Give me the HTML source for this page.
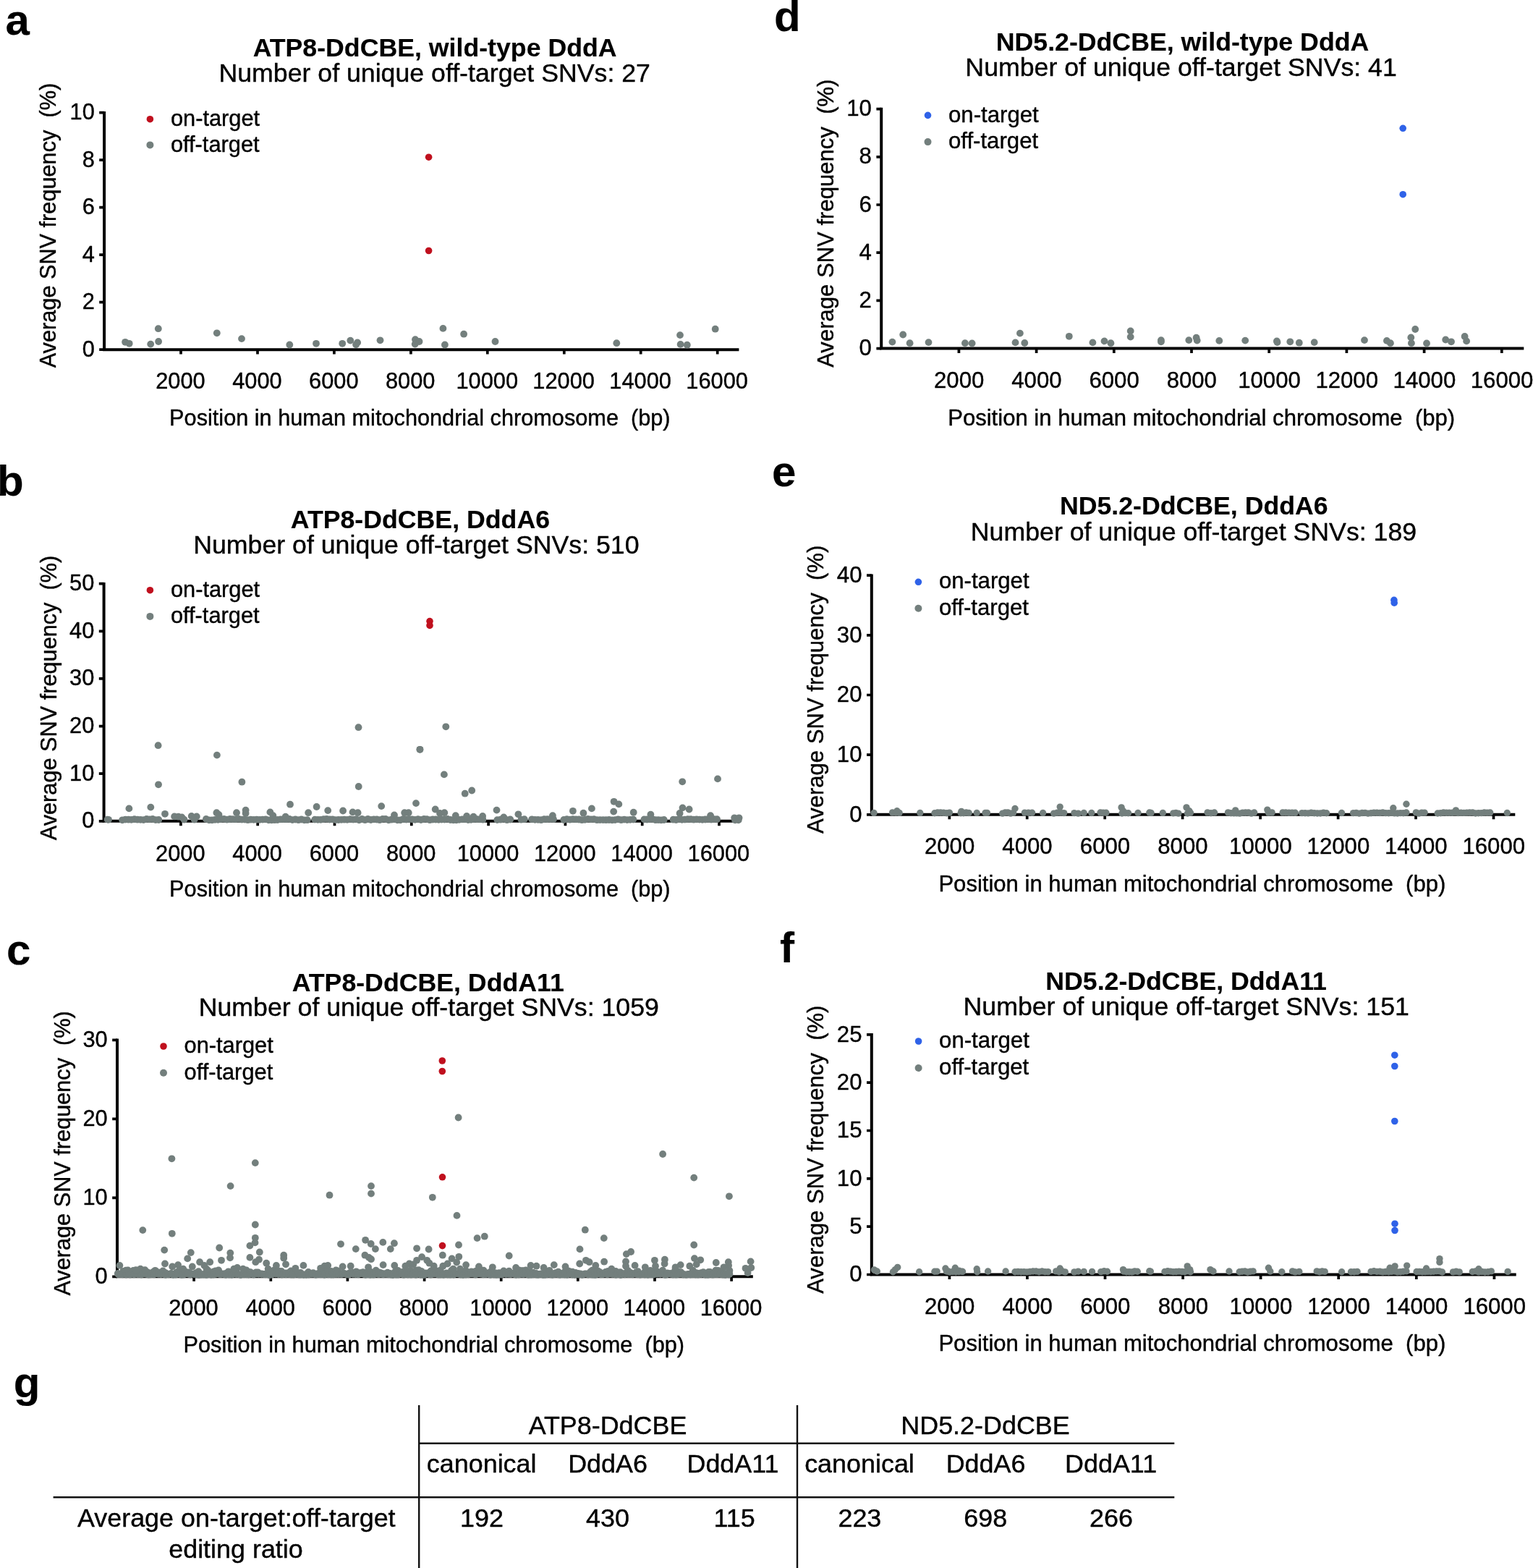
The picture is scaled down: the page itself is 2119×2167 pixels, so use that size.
<!DOCTYPE html>
<html lang="en"><head><meta charset="utf-8"><title>Figure</title>
<style>
html,body{margin:0;padding:0;background:#fff}
body{width:2119px;height:2167px;overflow:hidden}
svg{display:block}
text{font-family:"Liberation Sans",Arial,Helvetica,sans-serif;white-space:pre;fill:#000;stroke:#000;stroke-width:0.4px;stroke-linejoin:round}
text.b{font-weight:700;stroke-width:0.15px}
</style></head><body>
<svg width="2119" height="2167" viewBox="0 0 2119 2167">
<rect width="2119" height="2167" fill="#fff"/>
<g id="panel-a">
<text x="7.5" y="48" font-size="60" class="b">a</text>
<text x="601.1" y="77.6" font-size="35.7" text-anchor="middle" class="b">ATP8-DdCBE, wild-type DddA</text>
<text x="600.7" y="113.2" font-size="35.7" text-anchor="middle">Number of unique off-target SNVs: 27</text>
<path d="M144.1 153.9V485.2M142.1 483.2H1021.4" stroke="#000" stroke-width="4.0" fill="none"/>
<path d="M137.2 483.2H144.1M137.2 417.7H144.1M137.2 352.2H144.1M137.2 286.7H144.1M137.2 221.2H144.1M137.2 155.7H144.1M250 483.2V489.6M356 483.2V489.6M461.9 483.2V489.6M567.9 483.2V489.6M673.8 483.2V489.6M779.8 483.2V489.6M885.7 483.2V489.6M991.7 483.2V489.6" stroke="#000" stroke-width="3.7" fill="none"/>
<text x="130.8" y="492.7" font-size="30.8" text-anchor="end">0</text>
<text x="130.8" y="427.2" font-size="30.8" text-anchor="end">2</text>
<text x="130.8" y="361.7" font-size="30.8" text-anchor="end">4</text>
<text x="130.8" y="296.2" font-size="30.8" text-anchor="end">6</text>
<text x="130.8" y="230.7" font-size="30.8" text-anchor="end">8</text>
<text x="130.8" y="165.2" font-size="30.8" text-anchor="end">10</text>
<text x="249.4" y="536.6" font-size="30.8" text-anchor="middle">2000</text>
<text x="355.4" y="536.6" font-size="30.8" text-anchor="middle">4000</text>
<text x="461.3" y="536.6" font-size="30.8" text-anchor="middle">6000</text>
<text x="567.2" y="536.6" font-size="30.8" text-anchor="middle">8000</text>
<text x="673.2" y="536.6" font-size="30.8" text-anchor="middle">10000</text>
<text x="779.1" y="536.6" font-size="30.8" text-anchor="middle">12000</text>
<text x="885.1" y="536.6" font-size="30.8" text-anchor="middle">14000</text>
<text x="991.1" y="536.6" font-size="30.8" text-anchor="middle">16000</text>
<text x="234.1" y="587.8" font-size="30.7" xml:space="preserve">Position in human mitochondrial chromosome  (bp)</text>
<text transform="translate(77 508.3) rotate(-90)" font-size="30.7" xml:space="preserve">Average SNV frequency  (%)</text>
<g fill="#737f7d"><circle cx="173.1" cy="472.8" r="4.9"/><circle cx="178.7" cy="474.8" r="4.9"/><circle cx="208.2" cy="475.6" r="4.9"/><circle cx="218.8" cy="454.2" r="4.9"/><circle cx="219.1" cy="472" r="4.9"/><circle cx="299.8" cy="460.3" r="4.9"/><circle cx="334" cy="468.1" r="4.9"/><circle cx="400.3" cy="476.5" r="4.9"/><circle cx="437" cy="474.8" r="4.9"/><circle cx="473.2" cy="474.8" r="4.9"/><circle cx="484.3" cy="470.6" r="4.9"/><circle cx="494.1" cy="473.4" r="4.9"/><circle cx="492.1" cy="476.2" r="4.9"/><circle cx="525.5" cy="470.3" r="4.9"/><circle cx="574" cy="469.2" r="4.9"/><circle cx="579.5" cy="472" r="4.9"/><circle cx="573.7" cy="475.6" r="4.9"/><circle cx="612.4" cy="453.9" r="4.9"/><circle cx="614.9" cy="476.5" r="4.9"/><circle cx="641.1" cy="461.7" r="4.9"/><circle cx="684.5" cy="472" r="4.9"/><circle cx="852.3" cy="474.2" r="4.9"/><circle cx="940" cy="463.1" r="4.9"/><circle cx="940.6" cy="475.9" r="4.9"/><circle cx="949.8" cy="476.7" r="4.9"/><circle cx="988.7" cy="454.7" r="4.9"/></g>
<g fill="#c0101e"><circle cx="592.6" cy="217.2" r="4.8"/><circle cx="592.6" cy="346.5" r="4.8"/></g>
<circle cx="207.4" cy="164.7" r="4.8" fill="#c0101e"/>
<circle cx="207.4" cy="200.4" r="5" fill="#737f7d"/>
<text x="235.9" y="173.8" font-size="30.8">on-target</text>
<text x="235.9" y="209.6" font-size="30.8">off-target</text>
</g>
<g id="panel-b">
<text x="-4" y="685.4" font-size="60" class="b">b</text>
<text x="580.9" y="730" font-size="35.7" text-anchor="middle" class="b">ATP8-DdCBE, DddA6</text>
<text x="575.4" y="765.1" font-size="35.7" text-anchor="middle">Number of unique off-target SNVs: 510</text>
<path d="M143.6 804.9V1136.8M141.6 1134.8H1024" stroke="#000" stroke-width="4.0" fill="none"/>
<path d="M136.8 1134.8H143.6M136.8 1069.2H143.6M136.8 1003.6H143.6M136.8 937.9H143.6M136.8 872.3H143.6M136.8 806.7H143.6M249.9 1134.8V1141.2M356.2 1134.8V1141.2M462.5 1134.8V1141.2M568.8 1134.8V1141.2M675.1 1134.8V1141.2M781.4 1134.8V1141.2M887.7 1134.8V1141.2M994 1134.8V1141.2" stroke="#000" stroke-width="3.7" fill="none"/>
<text x="130.3" y="1144.3" font-size="30.8" text-anchor="end">0</text>
<text x="130.3" y="1078.7" font-size="30.8" text-anchor="end">10</text>
<text x="130.3" y="1013.1" font-size="30.8" text-anchor="end">20</text>
<text x="130.3" y="947.4" font-size="30.8" text-anchor="end">30</text>
<text x="130.3" y="881.8" font-size="30.8" text-anchor="end">40</text>
<text x="130.3" y="816.2" font-size="30.8" text-anchor="end">50</text>
<text x="249.3" y="1189.8" font-size="30.8" text-anchor="middle">2000</text>
<text x="355.6" y="1189.8" font-size="30.8" text-anchor="middle">4000</text>
<text x="461.9" y="1189.8" font-size="30.8" text-anchor="middle">6000</text>
<text x="568.2" y="1189.8" font-size="30.8" text-anchor="middle">8000</text>
<text x="674.5" y="1189.8" font-size="30.8" text-anchor="middle">10000</text>
<text x="780.8" y="1189.8" font-size="30.8" text-anchor="middle">12000</text>
<text x="887.1" y="1189.8" font-size="30.8" text-anchor="middle">14000</text>
<text x="993.4" y="1189.8" font-size="30.8" text-anchor="middle">16000</text>
<text x="234.1" y="1239.4" font-size="30.7" xml:space="preserve">Position in human mitochondrial chromosome  (bp)</text>
<text transform="translate(77.5 1161.2) rotate(-90)" font-size="30.7" xml:space="preserve">Average SNV frequency  (%)</text>
<g fill="#737f7d"><circle cx="148.6" cy="1132.6" r="4.9"/><circle cx="150" cy="1132.8" r="4.9"/><circle cx="169.1" cy="1133.3" r="4.9"/><circle cx="173.3" cy="1132.6" r="4.9"/><circle cx="177.5" cy="1132.7" r="4.9"/><circle cx="181.6" cy="1132.8" r="4.9"/><circle cx="185.8" cy="1132.2" r="4.9"/><circle cx="190" cy="1132.7" r="4.9"/><circle cx="194.2" cy="1132.9" r="4.9"/><circle cx="198.4" cy="1133.1" r="4.9"/><circle cx="202.6" cy="1132" r="4.9"/><circle cx="206.8" cy="1132.3" r="4.9"/><circle cx="211" cy="1132" r="4.9"/><circle cx="215.1" cy="1133.1" r="4.9"/><circle cx="219.3" cy="1133" r="4.9"/><circle cx="284.9" cy="1131.9" r="4.9"/><circle cx="289" cy="1133.4" r="4.9"/><circle cx="293.1" cy="1133.4" r="4.9"/><circle cx="297.2" cy="1132.9" r="4.9"/><circle cx="301.3" cy="1132.8" r="4.9"/><circle cx="305.5" cy="1132.1" r="4.9"/><circle cx="309.6" cy="1131.9" r="4.9"/><circle cx="313.7" cy="1132.7" r="4.9"/><circle cx="317.8" cy="1132" r="4.9"/><circle cx="321.9" cy="1132.2" r="4.9"/><circle cx="326" cy="1132.3" r="4.9"/><circle cx="330.2" cy="1131.9" r="4.9"/><circle cx="334.3" cy="1132.6" r="4.9"/><circle cx="338.4" cy="1132.6" r="4.9"/><circle cx="342.5" cy="1133.2" r="4.9"/><circle cx="346.6" cy="1132.7" r="4.9"/><circle cx="350.7" cy="1132.9" r="4.9"/><circle cx="354.8" cy="1132.7" r="4.9"/><circle cx="359" cy="1132.9" r="4.9"/><circle cx="363.1" cy="1132.6" r="4.9"/><circle cx="367.2" cy="1132.3" r="4.9"/><circle cx="371.3" cy="1133.4" r="4.9"/><circle cx="375.4" cy="1133.4" r="4.9"/><circle cx="379.5" cy="1133.2" r="4.9"/><circle cx="383.6" cy="1133" r="4.9"/><circle cx="387.8" cy="1132.4" r="4.9"/><circle cx="391.9" cy="1132.2" r="4.9"/><circle cx="396" cy="1132.3" r="4.9"/><circle cx="400.1" cy="1132" r="4.9"/><circle cx="404.2" cy="1133.1" r="4.9"/><circle cx="408.3" cy="1132.5" r="4.9"/><circle cx="412.5" cy="1133.2" r="4.9"/><circle cx="416.6" cy="1132.5" r="4.9"/><circle cx="420.7" cy="1133.4" r="4.9"/><circle cx="424.8" cy="1133.2" r="4.9"/><circle cx="228" cy="1124.8" r="4.9"/><circle cx="241.1" cy="1128.4" r="4.9"/><circle cx="246.6" cy="1128.7" r="4.9"/><circle cx="251.3" cy="1129.5" r="4.9"/><circle cx="254.5" cy="1132.7" r="4.9"/><circle cx="264.7" cy="1127.9" r="4.9"/><circle cx="271.8" cy="1128.4" r="4.9"/><circle cx="268.7" cy="1132.7" r="4.9"/><circle cx="299.4" cy="1123.2" r="4.9"/><circle cx="302.5" cy="1125.9" r="4.9"/><circle cx="327" cy="1123.2" r="4.9"/><circle cx="339.6" cy="1119.6" r="4.9"/><circle cx="339.6" cy="1124" r="4.9"/><circle cx="373.4" cy="1122.4" r="4.9"/><circle cx="377.4" cy="1127.1" r="4.9"/><circle cx="394.7" cy="1128.7" r="4.9"/><circle cx="426.2" cy="1123.2" r="4.9"/><circle cx="218.6" cy="1030.2" r="4.9"/><circle cx="299.9" cy="1043.6" r="4.9"/><circle cx="219" cy="1084.3" r="4.9"/><circle cx="334.4" cy="1080.7" r="4.9"/><circle cx="178.4" cy="1117.4" r="4.9"/><circle cx="208.3" cy="1115.6" r="4.9"/><circle cx="401" cy="1111.7" r="4.9"/><circle cx="435.2" cy="1132.6" r="4.9"/><circle cx="439.3" cy="1132.9" r="4.9"/><circle cx="443.3" cy="1132.9" r="4.9"/><circle cx="447.4" cy="1132.1" r="4.9"/><circle cx="451.5" cy="1131.9" r="4.9"/><circle cx="455.6" cy="1132.5" r="4.9"/><circle cx="459.6" cy="1132.3" r="4.9"/><circle cx="463.7" cy="1133.1" r="4.9"/><circle cx="467.8" cy="1133" r="4.9"/><circle cx="471.9" cy="1132.8" r="4.9"/><circle cx="475.9" cy="1132.7" r="4.9"/><circle cx="480" cy="1132.9" r="4.9"/><circle cx="484.1" cy="1132.1" r="4.9"/><circle cx="488.2" cy="1132.6" r="4.9"/><circle cx="492.2" cy="1132.1" r="4.9"/><circle cx="496.3" cy="1133.3" r="4.9"/><circle cx="500.4" cy="1132" r="4.9"/><circle cx="504.5" cy="1133.2" r="4.9"/><circle cx="508.5" cy="1132" r="4.9"/><circle cx="512.6" cy="1133" r="4.9"/><circle cx="516.7" cy="1132.4" r="4.9"/><circle cx="520.8" cy="1132.5" r="4.9"/><circle cx="524.8" cy="1133.2" r="4.9"/><circle cx="528.9" cy="1131.9" r="4.9"/><circle cx="533" cy="1132" r="4.9"/><circle cx="537.1" cy="1133.3" r="4.9"/><circle cx="541.1" cy="1132.7" r="4.9"/><circle cx="545.2" cy="1132" r="4.9"/><circle cx="549.3" cy="1133.4" r="4.9"/><circle cx="553.4" cy="1133.4" r="4.9"/><circle cx="557.4" cy="1132" r="4.9"/><circle cx="561.5" cy="1132.5" r="4.9"/><circle cx="565.6" cy="1132.1" r="4.9"/><circle cx="569.7" cy="1132.4" r="4.9"/><circle cx="573.7" cy="1132.8" r="4.9"/><circle cx="577.8" cy="1132.1" r="4.9"/><circle cx="581.9" cy="1133" r="4.9"/><circle cx="586" cy="1132" r="4.9"/><circle cx="590" cy="1132.1" r="4.9"/><circle cx="594.1" cy="1133.2" r="4.9"/><circle cx="598.2" cy="1132.5" r="4.9"/><circle cx="602.3" cy="1132.5" r="4.9"/><circle cx="606.3" cy="1132.8" r="4.9"/><circle cx="610.4" cy="1132.6" r="4.9"/><circle cx="614.5" cy="1132.5" r="4.9"/><circle cx="618.6" cy="1131.9" r="4.9"/><circle cx="622.6" cy="1133" r="4.9"/><circle cx="626.7" cy="1133.4" r="4.9"/><circle cx="630.8" cy="1133.4" r="4.9"/><circle cx="634.9" cy="1132.9" r="4.9"/><circle cx="638.9" cy="1132.4" r="4.9"/><circle cx="643" cy="1132.4" r="4.9"/><circle cx="647.1" cy="1133" r="4.9"/><circle cx="651.1" cy="1132.9" r="4.9"/><circle cx="655.2" cy="1132" r="4.9"/><circle cx="659.3" cy="1132.2" r="4.9"/><circle cx="663.4" cy="1132.4" r="4.9"/><circle cx="667.4" cy="1132.7" r="4.9"/><circle cx="687.3" cy="1133.1" r="4.9"/><circle cx="691.8" cy="1132.7" r="4.9"/><circle cx="696.3" cy="1131.9" r="4.9"/><circle cx="700.8" cy="1133.2" r="4.9"/><circle cx="705.3" cy="1132.5" r="4.9"/><circle cx="720.4" cy="1132.7" r="4.9"/><circle cx="724.8" cy="1132.2" r="4.9"/><circle cx="437.6" cy="1115" r="4.9"/><circle cx="453.2" cy="1120.1" r="4.9"/><circle cx="474.1" cy="1120.5" r="4.9"/><circle cx="487.5" cy="1122.4" r="4.9"/><circle cx="494.6" cy="1123.2" r="4.9"/><circle cx="527.2" cy="1114.1" r="4.9"/><circle cx="545" cy="1126.4" r="4.9"/><circle cx="559.2" cy="1123.2" r="4.9"/><circle cx="564.7" cy="1123.2" r="4.9"/><circle cx="575" cy="1110.1" r="4.9"/><circle cx="601.7" cy="1118.5" r="4.9"/><circle cx="608" cy="1124" r="4.9"/><circle cx="614.3" cy="1123.2" r="4.9"/><circle cx="629.8" cy="1127.1" r="4.9"/><circle cx="645.1" cy="1127.9" r="4.9"/><circle cx="654.5" cy="1128.7" r="4.9"/><circle cx="667.1" cy="1127.9" r="4.9"/><circle cx="686.5" cy="1119.6" r="4.9"/><circle cx="696.3" cy="1129.5" r="4.9"/><circle cx="716.4" cy="1125.3" r="4.9"/><circle cx="495.7" cy="1087" r="4.9"/><circle cx="580.5" cy="1035.8" r="4.9"/><circle cx="613.9" cy="1070.4" r="4.9"/><circle cx="642.7" cy="1096.7" r="4.9"/><circle cx="652.2" cy="1092.5" r="4.9"/><circle cx="735.2" cy="1132.3" r="4.9"/><circle cx="739.5" cy="1132.9" r="4.9"/><circle cx="743.7" cy="1132.9" r="4.9"/><circle cx="748" cy="1133.2" r="4.9"/><circle cx="752.2" cy="1132.2" r="4.9"/><circle cx="756.5" cy="1132.2" r="4.9"/><circle cx="760.7" cy="1132.1" r="4.9"/><circle cx="765" cy="1132.2" r="4.9"/><circle cx="779.3" cy="1133" r="4.9"/><circle cx="783.5" cy="1132.1" r="4.9"/><circle cx="787.7" cy="1132.7" r="4.9"/><circle cx="791.8" cy="1132.2" r="4.9"/><circle cx="796" cy="1132.3" r="4.9"/><circle cx="800.2" cy="1132.5" r="4.9"/><circle cx="804.3" cy="1133.2" r="4.9"/><circle cx="808.5" cy="1132.8" r="4.9"/><circle cx="812.7" cy="1131.9" r="4.9"/><circle cx="816.9" cy="1132.3" r="4.9"/><circle cx="821" cy="1132.1" r="4.9"/><circle cx="825.2" cy="1133.2" r="4.9"/><circle cx="829.4" cy="1133.1" r="4.9"/><circle cx="833.6" cy="1133.1" r="4.9"/><circle cx="837.7" cy="1133.2" r="4.9"/><circle cx="841.9" cy="1133" r="4.9"/><circle cx="846.1" cy="1133.4" r="4.9"/><circle cx="850.2" cy="1133.1" r="4.9"/><circle cx="854.4" cy="1132.3" r="4.9"/><circle cx="858.6" cy="1133.2" r="4.9"/><circle cx="862.8" cy="1132.6" r="4.9"/><circle cx="866.9" cy="1133.1" r="4.9"/><circle cx="871.1" cy="1132.8" r="4.9"/><circle cx="875.3" cy="1132.5" r="4.9"/><circle cx="890.4" cy="1132.4" r="4.9"/><circle cx="894.3" cy="1132.5" r="4.9"/><circle cx="898.2" cy="1132.4" r="4.9"/><circle cx="902.1" cy="1132.1" r="4.9"/><circle cx="906.1" cy="1133.2" r="4.9"/><circle cx="910" cy="1133.1" r="4.9"/><circle cx="913.9" cy="1133.4" r="4.9"/><circle cx="917.8" cy="1133" r="4.9"/><circle cx="930.6" cy="1132.7" r="4.9"/><circle cx="934.6" cy="1133" r="4.9"/><circle cx="938.6" cy="1132.1" r="4.9"/><circle cx="942.7" cy="1132.9" r="4.9"/><circle cx="946.7" cy="1132.6" r="4.9"/><circle cx="950.7" cy="1132.1" r="4.9"/><circle cx="954.8" cy="1132.2" r="4.9"/><circle cx="958.8" cy="1132.7" r="4.9"/><circle cx="962.8" cy="1132.3" r="4.9"/><circle cx="966.9" cy="1132.6" r="4.9"/><circle cx="970.9" cy="1132.8" r="4.9"/><circle cx="974.9" cy="1132.5" r="4.9"/><circle cx="979" cy="1132.1" r="4.9"/><circle cx="983" cy="1132.6" r="4.9"/><circle cx="987" cy="1132.2" r="4.9"/><circle cx="991.1" cy="1132.2" r="4.9"/><circle cx="763.9" cy="1127.1" r="4.9"/><circle cx="791.9" cy="1120.8" r="4.9"/><circle cx="806.4" cy="1123.7" r="4.9"/><circle cx="817.9" cy="1117.4" r="4.9"/><circle cx="848.2" cy="1121.6" r="4.9"/><circle cx="848.6" cy="1107.8" r="4.9"/><circle cx="855.3" cy="1111.4" r="4.9"/><circle cx="875.7" cy="1122.7" r="4.9"/><circle cx="899.4" cy="1125.6" r="4.9"/><circle cx="943.5" cy="1116.4" r="4.9"/><circle cx="952.6" cy="1118.5" r="4.9"/><circle cx="939.6" cy="1124" r="4.9"/><circle cx="982.1" cy="1127.1" r="4.9"/><circle cx="1015.2" cy="1130.3" r="4.9"/><circle cx="1021.5" cy="1130.3" r="4.9"/><circle cx="1016" cy="1133.4" r="4.9"/><circle cx="1020.7" cy="1133.4" r="4.9"/><circle cx="943.2" cy="1080.3" r="4.9"/><circle cx="992" cy="1076.4" r="4.9"/><circle cx="495.5" cy="1005.2" r="4.9"/><circle cx="616.3" cy="1004.3" r="4.9"/><circle cx="580.4" cy="1035.8" r="4.9"/></g>
<g fill="#c0101e"><circle cx="594" cy="858.6" r="4.8"/><circle cx="594" cy="864.4" r="4.8"/></g>
<circle cx="207.4" cy="815.7" r="4.8" fill="#c0101e"/>
<circle cx="207.4" cy="851.9" r="5" fill="#737f7d"/>
<text x="235.9" y="824.8" font-size="30.8">on-target</text>
<text x="235.9" y="861.1" font-size="30.8">off-target</text>
</g>
<g id="panel-c">
<text x="9" y="1333" font-size="60" class="b">c</text>
<text x="591.7" y="1369.5" font-size="35.7" text-anchor="middle" class="b">ATP8-DdCBE, DddA11</text>
<text x="592.8" y="1404.3" font-size="35.7" text-anchor="middle">Number of unique off-target SNVs: 1059</text>
<path d="M162 1435.5V1766.3M160 1764.3H1040.8" stroke="#000" stroke-width="4.0" fill="none"/>
<path d="M155.2 1764.3H162M155.2 1655.3H162M155.2 1546.3H162M155.2 1437.3H162M268.1 1764.3V1770.7M374.3 1764.3V1770.7M480.4 1764.3V1770.7M586.6 1764.3V1770.7M692.7 1764.3V1770.7M798.8 1764.3V1770.7M905 1764.3V1770.7M1011.1 1764.3V1770.7" stroke="#000" stroke-width="3.7" fill="none"/>
<text x="148.7" y="1773.8" font-size="30.8" text-anchor="end">0</text>
<text x="148.7" y="1664.8" font-size="30.8" text-anchor="end">10</text>
<text x="148.7" y="1555.8" font-size="30.8" text-anchor="end">20</text>
<text x="148.7" y="1446.8" font-size="30.8" text-anchor="end">30</text>
<text x="267.5" y="1818.2" font-size="30.8" text-anchor="middle">2000</text>
<text x="373.7" y="1818.2" font-size="30.8" text-anchor="middle">4000</text>
<text x="479.8" y="1818.2" font-size="30.8" text-anchor="middle">6000</text>
<text x="586" y="1818.2" font-size="30.8" text-anchor="middle">8000</text>
<text x="692.1" y="1818.2" font-size="30.8" text-anchor="middle">10000</text>
<text x="798.2" y="1818.2" font-size="30.8" text-anchor="middle">12000</text>
<text x="904.4" y="1818.2" font-size="30.8" text-anchor="middle">14000</text>
<text x="1010.5" y="1818.2" font-size="30.8" text-anchor="middle">16000</text>
<text x="253.5" y="1869.3" font-size="30.7" xml:space="preserve">Position in human mitochondrial chromosome  (bp)</text>
<text transform="translate(96.8 1790.6) rotate(-90)" font-size="30.7" xml:space="preserve">Average SNV frequency  (%)</text>
<g fill="#737f7d"><circle cx="162.8" cy="1759.9" r="4.9"/><circle cx="163.6" cy="1761.2" r="4.9"/><circle cx="166.3" cy="1760.6" r="4.9"/><circle cx="167.4" cy="1761.2" r="4.9"/><circle cx="170.3" cy="1756.8" r="4.9"/><circle cx="169.4" cy="1761.4" r="4.9"/><circle cx="174" cy="1755.7" r="4.9"/><circle cx="174.3" cy="1761.6" r="4.9"/><circle cx="176.8" cy="1755.5" r="4.9"/><circle cx="178.2" cy="1760.8" r="4.9"/><circle cx="181.4" cy="1759.4" r="4.9"/><circle cx="179.8" cy="1761.5" r="4.9"/><circle cx="184.2" cy="1756" r="4.9"/><circle cx="185" cy="1761.4" r="4.9"/><circle cx="187" cy="1760.7" r="4.9"/><circle cx="186.9" cy="1760.5" r="4.9"/><circle cx="191" cy="1758.9" r="4.9"/><circle cx="190.8" cy="1761.2" r="4.9"/><circle cx="194" cy="1755.5" r="4.9"/><circle cx="195.3" cy="1761.6" r="4.9"/><circle cx="198.6" cy="1756.6" r="4.9"/><circle cx="198.9" cy="1760.6" r="4.9"/><circle cx="202" cy="1760.4" r="4.9"/><circle cx="201.7" cy="1760.8" r="4.9"/><circle cx="204.3" cy="1758.4" r="4.9"/><circle cx="205.6" cy="1761.7" r="4.9"/><circle cx="209.3" cy="1761.2" r="4.9"/><circle cx="208.3" cy="1761.4" r="4.9"/><circle cx="211.8" cy="1757.8" r="4.9"/><circle cx="212.9" cy="1761.4" r="4.9"/><circle cx="214.5" cy="1755.8" r="4.9"/><circle cx="215.8" cy="1760.4" r="4.9"/><circle cx="218.8" cy="1758.5" r="4.9"/><circle cx="219" cy="1760.8" r="4.9"/><circle cx="221.8" cy="1759.3" r="4.9"/><circle cx="222.4" cy="1761" r="4.9"/><circle cx="225.2" cy="1756.4" r="4.9"/><circle cx="225.5" cy="1760.5" r="4.9"/><circle cx="229" cy="1759.2" r="4.9"/><circle cx="228.9" cy="1761.8" r="4.9"/><circle cx="231.9" cy="1760.7" r="4.9"/><circle cx="233.2" cy="1761.4" r="4.9"/><circle cx="236.5" cy="1759.8" r="4.9"/><circle cx="236.9" cy="1760.5" r="4.9"/><circle cx="239.5" cy="1761.9" r="4.9"/><circle cx="240.5" cy="1761" r="4.9"/><circle cx="243.8" cy="1758.5" r="4.9"/><circle cx="242.9" cy="1761.6" r="4.9"/><circle cx="247.3" cy="1756.3" r="4.9"/><circle cx="245.8" cy="1760.7" r="4.9"/><circle cx="250.6" cy="1758.5" r="4.9"/><circle cx="250.7" cy="1761.9" r="4.9"/><circle cx="253.1" cy="1757.2" r="4.9"/><circle cx="253.4" cy="1761.7" r="4.9"/><circle cx="256.2" cy="1757.5" r="4.9"/><circle cx="257.7" cy="1760.4" r="4.9"/><circle cx="260.9" cy="1758.4" r="4.9"/><circle cx="260" cy="1760.5" r="4.9"/><circle cx="264" cy="1760.1" r="4.9"/><circle cx="263" cy="1761.6" r="4.9"/><circle cx="268" cy="1760.6" r="4.9"/><circle cx="268.1" cy="1761" r="4.9"/><circle cx="270.7" cy="1759.1" r="4.9"/><circle cx="271.5" cy="1761.5" r="4.9"/><circle cx="274.4" cy="1757.1" r="4.9"/><circle cx="274.8" cy="1762" r="4.9"/><circle cx="278.1" cy="1761.7" r="4.9"/><circle cx="276.9" cy="1761" r="4.9"/><circle cx="281.5" cy="1761" r="4.9"/><circle cx="281.4" cy="1761.6" r="4.9"/><circle cx="284.5" cy="1761.7" r="4.9"/><circle cx="285.5" cy="1761.8" r="4.9"/><circle cx="287.4" cy="1755.8" r="4.9"/><circle cx="287.3" cy="1761.3" r="4.9"/><circle cx="291" cy="1761.1" r="4.9"/><circle cx="291.9" cy="1761.8" r="4.9"/><circle cx="295.2" cy="1757.4" r="4.9"/><circle cx="295.1" cy="1761.6" r="4.9"/><circle cx="298" cy="1756.4" r="4.9"/><circle cx="298.4" cy="1760.9" r="4.9"/><circle cx="302.1" cy="1755.5" r="4.9"/><circle cx="302.4" cy="1760.6" r="4.9"/><circle cx="306" cy="1760.6" r="4.9"/><circle cx="304.6" cy="1761.2" r="4.9"/><circle cx="308.2" cy="1760.4" r="4.9"/><circle cx="308.4" cy="1760.9" r="4.9"/><circle cx="312" cy="1759.9" r="4.9"/><circle cx="312.1" cy="1761.9" r="4.9"/><circle cx="315.7" cy="1757.3" r="4.9"/><circle cx="316.7" cy="1761.5" r="4.9"/><circle cx="319.4" cy="1758.9" r="4.9"/><circle cx="320.2" cy="1761.8" r="4.9"/><circle cx="323" cy="1758.6" r="4.9"/><circle cx="323.3" cy="1760.5" r="4.9"/><circle cx="326" cy="1759.9" r="4.9"/><circle cx="326.4" cy="1761.1" r="4.9"/><circle cx="329" cy="1760.7" r="4.9"/><circle cx="330.7" cy="1761.4" r="4.9"/><circle cx="332.9" cy="1761.9" r="4.9"/><circle cx="332.5" cy="1761.9" r="4.9"/><circle cx="335.9" cy="1760.7" r="4.9"/><circle cx="337.2" cy="1761.3" r="4.9"/><circle cx="340.4" cy="1755.3" r="4.9"/><circle cx="340.5" cy="1761.3" r="4.9"/><circle cx="343.7" cy="1757.8" r="4.9"/><circle cx="343.5" cy="1761.6" r="4.9"/><circle cx="346.3" cy="1758.1" r="4.9"/><circle cx="346.6" cy="1760.9" r="4.9"/><circle cx="351.2" cy="1760.1" r="4.9"/><circle cx="350.5" cy="1761.6" r="4.9"/><circle cx="353.8" cy="1758.5" r="4.9"/><circle cx="354.3" cy="1760.5" r="4.9"/><circle cx="356.7" cy="1758.4" r="4.9"/><circle cx="357.5" cy="1760.8" r="4.9"/><circle cx="361.7" cy="1760.5" r="4.9"/><circle cx="361.2" cy="1760.8" r="4.9"/><circle cx="364.8" cy="1761" r="4.9"/><circle cx="364.8" cy="1760.9" r="4.9"/><circle cx="367.4" cy="1761.4" r="4.9"/><circle cx="367.7" cy="1761" r="4.9"/><circle cx="372" cy="1761.7" r="4.9"/><circle cx="372.3" cy="1762" r="4.9"/><circle cx="374.5" cy="1757.3" r="4.9"/><circle cx="374.6" cy="1761.7" r="4.9"/><circle cx="378.4" cy="1755.7" r="4.9"/><circle cx="377.9" cy="1760.5" r="4.9"/><circle cx="382.2" cy="1758.3" r="4.9"/><circle cx="381" cy="1760.5" r="4.9"/><circle cx="385.6" cy="1756.6" r="4.9"/><circle cx="384.9" cy="1761" r="4.9"/><circle cx="389.1" cy="1757" r="4.9"/><circle cx="389.6" cy="1761.5" r="4.9"/><circle cx="391.7" cy="1760.9" r="4.9"/><circle cx="391.5" cy="1760.9" r="4.9"/><circle cx="395.1" cy="1759.3" r="4.9"/><circle cx="395.2" cy="1761.4" r="4.9"/><circle cx="399.9" cy="1758.4" r="4.9"/><circle cx="399" cy="1761" r="4.9"/><circle cx="402.2" cy="1756.4" r="4.9"/><circle cx="402.4" cy="1761.5" r="4.9"/><circle cx="405.5" cy="1761.7" r="4.9"/><circle cx="405.2" cy="1760.7" r="4.9"/><circle cx="410.3" cy="1760" r="4.9"/><circle cx="408.6" cy="1761.2" r="4.9"/><circle cx="412.1" cy="1759.3" r="4.9"/><circle cx="413.4" cy="1761.6" r="4.9"/><circle cx="415.5" cy="1758.9" r="4.9"/><circle cx="415.7" cy="1761.5" r="4.9"/><circle cx="419.8" cy="1761.3" r="4.9"/><circle cx="419.7" cy="1761.8" r="4.9"/><circle cx="423.9" cy="1760.8" r="4.9"/><circle cx="423.4" cy="1761.9" r="4.9"/><circle cx="426.2" cy="1757.9" r="4.9"/><circle cx="426.9" cy="1761.6" r="4.9"/><circle cx="430.9" cy="1760.9" r="4.9"/><circle cx="431.1" cy="1760.6" r="4.9"/><circle cx="432.9" cy="1759.1" r="4.9"/><circle cx="433" cy="1760.6" r="4.9"/><circle cx="437.7" cy="1760.3" r="4.9"/><circle cx="436.6" cy="1761.9" r="4.9"/><circle cx="441.3" cy="1759.3" r="4.9"/><circle cx="440.9" cy="1761.2" r="4.9"/><circle cx="444.7" cy="1757.5" r="4.9"/><circle cx="443.7" cy="1761.4" r="4.9"/><circle cx="447.3" cy="1759.4" r="4.9"/><circle cx="448.4" cy="1761.9" r="4.9"/><circle cx="165.4" cy="1748.9" r="4.9"/><circle cx="197.3" cy="1700.1" r="4.9"/><circle cx="237.8" cy="1704.8" r="4.9"/><circle cx="237.4" cy="1601.3" r="4.9"/><circle cx="227.2" cy="1727.6" r="4.9"/><circle cx="228" cy="1746.5" r="4.9"/><circle cx="238.2" cy="1750.5" r="4.9"/><circle cx="246.1" cy="1748.1" r="4.9"/><circle cx="253.2" cy="1753.6" r="4.9"/><circle cx="259.2" cy="1739.4" r="4.9"/><circle cx="263.8" cy="1731.1" r="4.9"/><circle cx="265.8" cy="1750.5" r="4.9"/><circle cx="276.1" cy="1744.2" r="4.9"/><circle cx="282.4" cy="1748.9" r="4.9"/><circle cx="285.5" cy="1753.6" r="4.9"/><circle cx="290.2" cy="1744.2" r="4.9"/><circle cx="303.2" cy="1724.5" r="4.9"/><circle cx="306" cy="1741.8" r="4.9"/><circle cx="318.3" cy="1731.6" r="4.9"/><circle cx="318" cy="1738.3" r="4.9"/><circle cx="318.6" cy="1639.1" r="4.9"/><circle cx="352.8" cy="1607.1" r="4.9"/><circle cx="352.8" cy="1692.5" r="4.9"/><circle cx="352.8" cy="1710.8" r="4.9"/><circle cx="352.5" cy="1717.4" r="4.9"/><circle cx="345.4" cy="1721.6" r="4.9"/><circle cx="345.4" cy="1737.9" r="4.9"/><circle cx="358.8" cy="1730.5" r="4.9"/><circle cx="358" cy="1740.7" r="4.9"/><circle cx="353.3" cy="1744.2" r="4.9"/><circle cx="368.2" cy="1745.7" r="4.9"/><circle cx="370.6" cy="1753.6" r="4.9"/><circle cx="381.9" cy="1748.9" r="4.9"/><circle cx="392.2" cy="1734.7" r="4.9"/><circle cx="392.2" cy="1738.7" r="4.9"/><circle cx="395" cy="1747.3" r="4.9"/><circle cx="419.4" cy="1748.9" r="4.9"/><circle cx="408.4" cy="1752.8" r="4.9"/><circle cx="443.1" cy="1752.8" r="4.9"/><circle cx="448.6" cy="1749.7" r="4.9"/><circle cx="194.1" cy="1753.6" r="4.9"/><circle cx="328" cy="1752" r="4.9"/><circle cx="335.9" cy="1753.6" r="4.9"/><circle cx="323.3" cy="1753.6" r="4.9"/><circle cx="187.8" cy="1755.2" r="4.9"/><circle cx="200.4" cy="1755.2" r="4.9"/><circle cx="450.9" cy="1756.2" r="4.9"/><circle cx="449.1" cy="1760.4" r="4.9"/><circle cx="452.9" cy="1756" r="4.9"/><circle cx="453.8" cy="1761.4" r="4.9"/><circle cx="457.7" cy="1756.8" r="4.9"/><circle cx="457.8" cy="1761.5" r="4.9"/><circle cx="460.6" cy="1761.5" r="4.9"/><circle cx="460.7" cy="1760.5" r="4.9"/><circle cx="464.3" cy="1755.5" r="4.9"/><circle cx="464.6" cy="1761" r="4.9"/><circle cx="467" cy="1756.5" r="4.9"/><circle cx="468" cy="1761.1" r="4.9"/><circle cx="471.6" cy="1760.4" r="4.9"/><circle cx="471.7" cy="1761.1" r="4.9"/><circle cx="474.6" cy="1759.3" r="4.9"/><circle cx="473.8" cy="1760.5" r="4.9"/><circle cx="477.4" cy="1760.5" r="4.9"/><circle cx="478.6" cy="1760.9" r="4.9"/><circle cx="480.5" cy="1760.8" r="4.9"/><circle cx="481.5" cy="1761.7" r="4.9"/><circle cx="483.8" cy="1758.8" r="4.9"/><circle cx="483.8" cy="1760.5" r="4.9"/><circle cx="488.1" cy="1758.7" r="4.9"/><circle cx="488" cy="1760.9" r="4.9"/><circle cx="492.4" cy="1757.3" r="4.9"/><circle cx="491.4" cy="1761.1" r="4.9"/><circle cx="494.7" cy="1759.2" r="4.9"/><circle cx="495.1" cy="1761.3" r="4.9"/><circle cx="498.9" cy="1758.8" r="4.9"/><circle cx="497.8" cy="1760.4" r="4.9"/><circle cx="501.7" cy="1758.1" r="4.9"/><circle cx="501.8" cy="1760.5" r="4.9"/><circle cx="506.3" cy="1758.7" r="4.9"/><circle cx="505.3" cy="1761.8" r="4.9"/><circle cx="509.7" cy="1756.4" r="4.9"/><circle cx="509" cy="1761.4" r="4.9"/><circle cx="512.1" cy="1757.6" r="4.9"/><circle cx="511.8" cy="1761.9" r="4.9"/><circle cx="515.9" cy="1760.6" r="4.9"/><circle cx="516.1" cy="1761.7" r="4.9"/><circle cx="519.7" cy="1755.6" r="4.9"/><circle cx="519.2" cy="1760.7" r="4.9"/><circle cx="523.6" cy="1758.3" r="4.9"/><circle cx="523.4" cy="1761.2" r="4.9"/><circle cx="526.3" cy="1759.2" r="4.9"/><circle cx="527.2" cy="1760.8" r="4.9"/><circle cx="529.7" cy="1760.1" r="4.9"/><circle cx="530" cy="1761.4" r="4.9"/><circle cx="533.7" cy="1760.8" r="4.9"/><circle cx="533.4" cy="1760.5" r="4.9"/><circle cx="535.7" cy="1758.6" r="4.9"/><circle cx="536.9" cy="1761.4" r="4.9"/><circle cx="539.5" cy="1759.9" r="4.9"/><circle cx="540" cy="1761.6" r="4.9"/><circle cx="542.7" cy="1761.8" r="4.9"/><circle cx="543.3" cy="1761.8" r="4.9"/><circle cx="546.5" cy="1756.9" r="4.9"/><circle cx="547.8" cy="1761.7" r="4.9"/><circle cx="550.1" cy="1755.9" r="4.9"/><circle cx="550.5" cy="1761.6" r="4.9"/><circle cx="553.7" cy="1760.2" r="4.9"/><circle cx="554.8" cy="1760.7" r="4.9"/><circle cx="556.6" cy="1757.8" r="4.9"/><circle cx="558.1" cy="1761.9" r="4.9"/><circle cx="560.4" cy="1758.5" r="4.9"/><circle cx="560.7" cy="1760.8" r="4.9"/><circle cx="564.8" cy="1758.3" r="4.9"/><circle cx="563.9" cy="1761.6" r="4.9"/><circle cx="567.4" cy="1755.6" r="4.9"/><circle cx="568.2" cy="1761.7" r="4.9"/><circle cx="572.1" cy="1759.6" r="4.9"/><circle cx="570.5" cy="1761.2" r="4.9"/><circle cx="575" cy="1755.5" r="4.9"/><circle cx="574.8" cy="1761.9" r="4.9"/><circle cx="578.8" cy="1755.2" r="4.9"/><circle cx="578.5" cy="1760.4" r="4.9"/><circle cx="582.4" cy="1756.8" r="4.9"/><circle cx="581.8" cy="1761.8" r="4.9"/><circle cx="584.9" cy="1761.1" r="4.9"/><circle cx="585.8" cy="1762" r="4.9"/><circle cx="588.4" cy="1759.5" r="4.9"/><circle cx="588" cy="1760.7" r="4.9"/><circle cx="592.9" cy="1758.9" r="4.9"/><circle cx="591.9" cy="1760.6" r="4.9"/><circle cx="595.6" cy="1756.5" r="4.9"/><circle cx="595.2" cy="1761.7" r="4.9"/><circle cx="599.7" cy="1758.7" r="4.9"/><circle cx="599.4" cy="1760.7" r="4.9"/><circle cx="603.4" cy="1756.5" r="4.9"/><circle cx="602.3" cy="1760.6" r="4.9"/><circle cx="606.5" cy="1757.8" r="4.9"/><circle cx="606.3" cy="1761.7" r="4.9"/><circle cx="608.8" cy="1755.5" r="4.9"/><circle cx="609.2" cy="1761.6" r="4.9"/><circle cx="613" cy="1761.8" r="4.9"/><circle cx="612.3" cy="1761.1" r="4.9"/><circle cx="617.1" cy="1759.3" r="4.9"/><circle cx="616.4" cy="1760.8" r="4.9"/><circle cx="618.9" cy="1761.6" r="4.9"/><circle cx="620.2" cy="1760.7" r="4.9"/><circle cx="623.9" cy="1755.9" r="4.9"/><circle cx="622.5" cy="1761.7" r="4.9"/><circle cx="626.8" cy="1761.6" r="4.9"/><circle cx="627.6" cy="1761.3" r="4.9"/><circle cx="630.5" cy="1760.2" r="4.9"/><circle cx="629.9" cy="1760.4" r="4.9"/><circle cx="634.6" cy="1760.1" r="4.9"/><circle cx="634.5" cy="1760.7" r="4.9"/><circle cx="637.5" cy="1757.4" r="4.9"/><circle cx="636.8" cy="1761.6" r="4.9"/><circle cx="639.8" cy="1761.5" r="4.9"/><circle cx="640.3" cy="1761.9" r="4.9"/><circle cx="643.8" cy="1755.9" r="4.9"/><circle cx="644" cy="1761.5" r="4.9"/><circle cx="647" cy="1758.4" r="4.9"/><circle cx="647.4" cy="1761.4" r="4.9"/><circle cx="651.6" cy="1757.3" r="4.9"/><circle cx="651.1" cy="1760.6" r="4.9"/><circle cx="655.4" cy="1757.7" r="4.9"/><circle cx="653.6" cy="1760.5" r="4.9"/><circle cx="658" cy="1756.7" r="4.9"/><circle cx="657.3" cy="1761.6" r="4.9"/><circle cx="661.1" cy="1756.1" r="4.9"/><circle cx="660.6" cy="1760.4" r="4.9"/><circle cx="665.5" cy="1756" r="4.9"/><circle cx="664.9" cy="1760.7" r="4.9"/><circle cx="668.4" cy="1755.7" r="4.9"/><circle cx="668.1" cy="1761.4" r="4.9"/><circle cx="672.6" cy="1759.1" r="4.9"/><circle cx="671.8" cy="1761" r="4.9"/><circle cx="674.5" cy="1759.8" r="4.9"/><circle cx="675.9" cy="1760.9" r="4.9"/><circle cx="678.5" cy="1757.1" r="4.9"/><circle cx="677.9" cy="1761.8" r="4.9"/><circle cx="681.6" cy="1758.3" r="4.9"/><circle cx="682.8" cy="1761.6" r="4.9"/><circle cx="685.7" cy="1759.5" r="4.9"/><circle cx="686" cy="1761.9" r="4.9"/><circle cx="690" cy="1759.2" r="4.9"/><circle cx="688.8" cy="1761.6" r="4.9"/><circle cx="693" cy="1761.5" r="4.9"/><circle cx="692.3" cy="1761.3" r="4.9"/><circle cx="696.2" cy="1756.4" r="4.9"/><circle cx="695.9" cy="1760.5" r="4.9"/><circle cx="699.7" cy="1760.8" r="4.9"/><circle cx="699.1" cy="1760.6" r="4.9"/><circle cx="703.6" cy="1756.7" r="4.9"/><circle cx="703.1" cy="1760.9" r="4.9"/><circle cx="706.7" cy="1759.3" r="4.9"/><circle cx="706" cy="1761.1" r="4.9"/><circle cx="709.7" cy="1760.6" r="4.9"/><circle cx="709.7" cy="1760.4" r="4.9"/><circle cx="713.6" cy="1756.7" r="4.9"/><circle cx="713.3" cy="1761.8" r="4.9"/><circle cx="717.4" cy="1755.5" r="4.9"/><circle cx="717.1" cy="1761.5" r="4.9"/><circle cx="720.9" cy="1756.1" r="4.9"/><circle cx="720.7" cy="1760.8" r="4.9"/><circle cx="723.3" cy="1756.1" r="4.9"/><circle cx="723.6" cy="1761" r="4.9"/><circle cx="726.9" cy="1755.3" r="4.9"/><circle cx="727.2" cy="1760.7" r="4.9"/><circle cx="730.1" cy="1761.6" r="4.9"/><circle cx="730.8" cy="1761.7" r="4.9"/><circle cx="733.5" cy="1757.7" r="4.9"/><circle cx="734.2" cy="1761.7" r="4.9"/><circle cx="736.9" cy="1758.6" r="4.9"/><circle cx="737.2" cy="1761.3" r="4.9"/><circle cx="741.1" cy="1759.9" r="4.9"/><circle cx="741.3" cy="1761.6" r="4.9"/><circle cx="744" cy="1761" r="4.9"/><circle cx="743.8" cy="1761.8" r="4.9"/><circle cx="747.3" cy="1760.8" r="4.9"/><circle cx="748.2" cy="1760.5" r="4.9"/><circle cx="455.5" cy="1651.7" r="4.9"/><circle cx="513" cy="1639.1" r="4.9"/><circle cx="513" cy="1649.6" r="4.9"/><circle cx="597.8" cy="1654.8" r="4.9"/><circle cx="631.5" cy="1679.9" r="4.9"/><circle cx="471" cy="1719.3" r="4.9"/><circle cx="491.8" cy="1726.1" r="4.9"/><circle cx="505.1" cy="1713.8" r="4.9"/><circle cx="512.7" cy="1719" r="4.9"/><circle cx="518.9" cy="1726.1" r="4.9"/><circle cx="529.3" cy="1716.9" r="4.9"/><circle cx="539.8" cy="1726.1" r="4.9"/><circle cx="544.9" cy="1718.2" r="4.9"/><circle cx="504.4" cy="1734.7" r="4.9"/><circle cx="509.9" cy="1737.9" r="4.9"/><circle cx="513" cy="1740.2" r="4.9"/><circle cx="576.1" cy="1725.3" r="4.9"/><circle cx="592.6" cy="1726.5" r="4.9"/><circle cx="611.8" cy="1734.7" r="4.9"/><circle cx="634" cy="1720.5" r="4.9"/><circle cx="634.3" cy="1736.8" r="4.9"/><circle cx="624.6" cy="1739.4" r="4.9"/><circle cx="631.2" cy="1744.6" r="4.9"/><circle cx="659.6" cy="1711.1" r="4.9"/><circle cx="669.8" cy="1708.7" r="4.9"/><circle cx="703.7" cy="1735.5" r="4.9"/><circle cx="583.1" cy="1737.1" r="4.9"/><circle cx="576.1" cy="1741.8" r="4.9"/><circle cx="590.2" cy="1741.8" r="4.9"/><circle cx="565.8" cy="1746.5" r="4.9"/><circle cx="593.4" cy="1745.7" r="4.9"/><circle cx="618.6" cy="1746.5" r="4.9"/><circle cx="644.1" cy="1748.1" r="4.9"/><circle cx="661.9" cy="1750.5" r="4.9"/><circle cx="680.8" cy="1751.3" r="4.9"/><circle cx="713.1" cy="1752" r="4.9"/><circle cx="733.6" cy="1748.9" r="4.9"/><circle cx="741.5" cy="1749.7" r="4.9"/><circle cx="529.6" cy="1748.1" r="4.9"/><circle cx="545.3" cy="1748.9" r="4.9"/><circle cx="484.7" cy="1749.7" r="4.9"/><circle cx="473.6" cy="1750.5" r="4.9"/><circle cx="453.2" cy="1748.9" r="4.9"/><circle cx="509.1" cy="1751.3" r="4.9"/><circle cx="571.3" cy="1747.3" r="4.9"/><circle cx="560.3" cy="1749.7" r="4.9"/><circle cx="599.7" cy="1749.7" r="4.9"/><circle cx="612.3" cy="1749.7" r="4.9"/><circle cx="626.5" cy="1753.6" r="4.9"/><circle cx="635.9" cy="1753.6" r="4.9"/><circle cx="750.8" cy="1761.6" r="4.9"/><circle cx="750.7" cy="1761.8" r="4.9"/><circle cx="753.6" cy="1758.1" r="4.9"/><circle cx="753.5" cy="1761.8" r="4.9"/><circle cx="756.4" cy="1758.2" r="4.9"/><circle cx="756.4" cy="1761.3" r="4.9"/><circle cx="759.5" cy="1755.8" r="4.9"/><circle cx="760.8" cy="1761.3" r="4.9"/><circle cx="763.9" cy="1760.2" r="4.9"/><circle cx="763.6" cy="1761.9" r="4.9"/><circle cx="767.9" cy="1759.2" r="4.9"/><circle cx="767.6" cy="1761" r="4.9"/><circle cx="771.7" cy="1757.7" r="4.9"/><circle cx="771.3" cy="1761.4" r="4.9"/><circle cx="774.4" cy="1759.7" r="4.9"/><circle cx="773.9" cy="1761.8" r="4.9"/><circle cx="777.7" cy="1760.1" r="4.9"/><circle cx="777.9" cy="1761.3" r="4.9"/><circle cx="781.5" cy="1756.4" r="4.9"/><circle cx="780.6" cy="1761.5" r="4.9"/><circle cx="785.3" cy="1756.5" r="4.9"/><circle cx="783.9" cy="1761.8" r="4.9"/><circle cx="787.3" cy="1757.1" r="4.9"/><circle cx="788.3" cy="1760.7" r="4.9"/><circle cx="791.3" cy="1757.7" r="4.9"/><circle cx="791.2" cy="1761.5" r="4.9"/><circle cx="795.6" cy="1758.9" r="4.9"/><circle cx="794.6" cy="1761.8" r="4.9"/><circle cx="799.1" cy="1760" r="4.9"/><circle cx="799.2" cy="1761.6" r="4.9"/><circle cx="802.1" cy="1761.4" r="4.9"/><circle cx="802.2" cy="1760.5" r="4.9"/><circle cx="804.8" cy="1761.8" r="4.9"/><circle cx="804.6" cy="1761.3" r="4.9"/><circle cx="808" cy="1760.7" r="4.9"/><circle cx="809.3" cy="1760.4" r="4.9"/><circle cx="813" cy="1761.6" r="4.9"/><circle cx="812.5" cy="1760.4" r="4.9"/><circle cx="816.3" cy="1757.5" r="4.9"/><circle cx="816.8" cy="1761.4" r="4.9"/><circle cx="818.7" cy="1755.7" r="4.9"/><circle cx="819.3" cy="1761.7" r="4.9"/><circle cx="823.6" cy="1761.6" r="4.9"/><circle cx="822.3" cy="1761.8" r="4.9"/><circle cx="826.3" cy="1756.3" r="4.9"/><circle cx="826.3" cy="1760.7" r="4.9"/><circle cx="829.3" cy="1758.1" r="4.9"/><circle cx="830.5" cy="1761.3" r="4.9"/><circle cx="832.9" cy="1761.2" r="4.9"/><circle cx="833.8" cy="1760.6" r="4.9"/><circle cx="837" cy="1758" r="4.9"/><circle cx="837" cy="1760.7" r="4.9"/><circle cx="840.4" cy="1756.8" r="4.9"/><circle cx="839.7" cy="1761.3" r="4.9"/><circle cx="844.1" cy="1759" r="4.9"/><circle cx="843.7" cy="1760.7" r="4.9"/><circle cx="846.3" cy="1759.5" r="4.9"/><circle cx="846.7" cy="1761.1" r="4.9"/><circle cx="851.2" cy="1756.9" r="4.9"/><circle cx="851.4" cy="1761.9" r="4.9"/><circle cx="854.1" cy="1758.9" r="4.9"/><circle cx="853.5" cy="1761.1" r="4.9"/><circle cx="857.4" cy="1758.2" r="4.9"/><circle cx="857.9" cy="1762" r="4.9"/><circle cx="860.7" cy="1760.5" r="4.9"/><circle cx="860.2" cy="1760.6" r="4.9"/><circle cx="863.8" cy="1759.8" r="4.9"/><circle cx="863.8" cy="1761.3" r="4.9"/><circle cx="867.7" cy="1755.8" r="4.9"/><circle cx="868.2" cy="1761.2" r="4.9"/><circle cx="871.7" cy="1758.9" r="4.9"/><circle cx="871.4" cy="1761.1" r="4.9"/><circle cx="874.4" cy="1761.3" r="4.9"/><circle cx="874" cy="1760.6" r="4.9"/><circle cx="878.9" cy="1758.6" r="4.9"/><circle cx="878.8" cy="1760.9" r="4.9"/><circle cx="881.9" cy="1757.2" r="4.9"/><circle cx="881.4" cy="1761.4" r="4.9"/><circle cx="884.8" cy="1761.7" r="4.9"/><circle cx="884.9" cy="1761.4" r="4.9"/><circle cx="888.5" cy="1760.7" r="4.9"/><circle cx="888.6" cy="1761.1" r="4.9"/><circle cx="891.7" cy="1757.1" r="4.9"/><circle cx="891.3" cy="1761.6" r="4.9"/><circle cx="895.1" cy="1761" r="4.9"/><circle cx="895.6" cy="1761.8" r="4.9"/><circle cx="899" cy="1756" r="4.9"/><circle cx="899.2" cy="1761.3" r="4.9"/><circle cx="903.2" cy="1757" r="4.9"/><circle cx="903.2" cy="1761.6" r="4.9"/><circle cx="906.9" cy="1759.5" r="4.9"/><circle cx="905.1" cy="1760.7" r="4.9"/><circle cx="909" cy="1757.7" r="4.9"/><circle cx="908.8" cy="1760.7" r="4.9"/><circle cx="912.1" cy="1760.2" r="4.9"/><circle cx="912.7" cy="1760.9" r="4.9"/><circle cx="916" cy="1755.7" r="4.9"/><circle cx="917.2" cy="1760.9" r="4.9"/><circle cx="919.2" cy="1761.8" r="4.9"/><circle cx="920.6" cy="1761.7" r="4.9"/><circle cx="922.4" cy="1759.3" r="4.9"/><circle cx="922.6" cy="1760.8" r="4.9"/><circle cx="926.7" cy="1760" r="4.9"/><circle cx="926.9" cy="1760.8" r="4.9"/><circle cx="930.9" cy="1759.3" r="4.9"/><circle cx="930.4" cy="1761.5" r="4.9"/><circle cx="933" cy="1755.8" r="4.9"/><circle cx="934.4" cy="1761.7" r="4.9"/><circle cx="937" cy="1757.3" r="4.9"/><circle cx="937.4" cy="1761.1" r="4.9"/><circle cx="941.3" cy="1758.2" r="4.9"/><circle cx="940.4" cy="1760.9" r="4.9"/><circle cx="944.6" cy="1761.5" r="4.9"/><circle cx="943.8" cy="1760.6" r="4.9"/><circle cx="948.5" cy="1761.9" r="4.9"/><circle cx="946.9" cy="1761.4" r="4.9"/><circle cx="951.6" cy="1760.8" r="4.9"/><circle cx="950.2" cy="1761.4" r="4.9"/><circle cx="954.9" cy="1760.3" r="4.9"/><circle cx="954.6" cy="1761.6" r="4.9"/><circle cx="957.8" cy="1755.6" r="4.9"/><circle cx="957.6" cy="1761.3" r="4.9"/><circle cx="962.1" cy="1759.2" r="4.9"/><circle cx="961.3" cy="1761.6" r="4.9"/><circle cx="964.6" cy="1759.7" r="4.9"/><circle cx="964.8" cy="1761.7" r="4.9"/><circle cx="969" cy="1759.1" r="4.9"/><circle cx="969.3" cy="1761.1" r="4.9"/><circle cx="972.1" cy="1758.1" r="4.9"/><circle cx="972.1" cy="1760.5" r="4.9"/><circle cx="976.2" cy="1759.7" r="4.9"/><circle cx="975.2" cy="1761.9" r="4.9"/><circle cx="979.4" cy="1757.9" r="4.9"/><circle cx="978.6" cy="1761.9" r="4.9"/><circle cx="981.4" cy="1757.8" r="4.9"/><circle cx="983.1" cy="1760.8" r="4.9"/><circle cx="986.1" cy="1759.7" r="4.9"/><circle cx="985.3" cy="1761.7" r="4.9"/><circle cx="989.4" cy="1755.6" r="4.9"/><circle cx="989.3" cy="1761.2" r="4.9"/><circle cx="992.7" cy="1756" r="4.9"/><circle cx="991.8" cy="1761.2" r="4.9"/><circle cx="995.4" cy="1759.5" r="4.9"/><circle cx="995.8" cy="1761" r="4.9"/><circle cx="1000.1" cy="1759.3" r="4.9"/><circle cx="999.6" cy="1761.7" r="4.9"/><circle cx="1002.8" cy="1761.8" r="4.9"/><circle cx="1002.6" cy="1761.5" r="4.9"/><circle cx="1006.5" cy="1758.9" r="4.9"/><circle cx="1007.1" cy="1761.5" r="4.9"/><circle cx="959.2" cy="1627.6" r="4.9"/><circle cx="1007.9" cy="1653.3" r="4.9"/><circle cx="808.8" cy="1699.7" r="4.9"/><circle cx="834.8" cy="1711.1" r="4.9"/><circle cx="801.5" cy="1726.4" r="4.9"/><circle cx="959.2" cy="1720.5" r="4.9"/><circle cx="865.8" cy="1733.1" r="4.9"/><circle cx="872.1" cy="1730" r="4.9"/><circle cx="865" cy="1743.4" r="4.9"/><circle cx="959.9" cy="1739.1" r="4.9"/><circle cx="968.2" cy="1741.3" r="4.9"/><circle cx="904.9" cy="1741.8" r="4.9"/><circle cx="918.9" cy="1740.7" r="4.9"/><circle cx="918.6" cy="1746.5" r="4.9"/><circle cx="835.1" cy="1743.7" r="4.9"/><circle cx="809.9" cy="1741.8" r="4.9"/><circle cx="801.2" cy="1746.5" r="4.9"/><circle cx="814.6" cy="1744.2" r="4.9"/><circle cx="765.8" cy="1748.1" r="4.9"/><circle cx="781.5" cy="1750.5" r="4.9"/><circle cx="823.3" cy="1748.9" r="4.9"/><circle cx="877.6" cy="1748.9" r="4.9"/><circle cx="891.8" cy="1751.3" r="4.9"/><circle cx="940.7" cy="1748.1" r="4.9"/><circle cx="933.6" cy="1751.3" r="4.9"/><circle cx="989.8" cy="1745" r="4.9"/><circle cx="1006.8" cy="1744.2" r="4.9"/><circle cx="1007.1" cy="1748.9" r="4.9"/><circle cx="1000.5" cy="1751.3" r="4.9"/><circle cx="1037.6" cy="1743.4" r="4.9"/><circle cx="1038.3" cy="1752" r="4.9"/><circle cx="1030.5" cy="1752.8" r="4.9"/><circle cx="1033.6" cy="1759.1" r="4.9"/><circle cx="751.6" cy="1752" r="4.9"/><circle cx="845.3" cy="1753.6" r="4.9"/><circle cx="953.3" cy="1749.7" r="4.9"/><circle cx="962.7" cy="1747.3" r="4.9"/><circle cx="865" cy="1749.7" r="4.9"/><circle cx="906" cy="1749.7" r="4.9"/><circle cx="1008.4" cy="1756" r="4.9"/><circle cx="1008.4" cy="1760.7" r="4.9"/><circle cx="633.6" cy="1544.5" r="4.9"/><circle cx="916.1" cy="1595" r="4.9"/></g>
<g fill="#c0101e"><circle cx="611.3" cy="1466" r="4.8"/><circle cx="611.3" cy="1480.5" r="4.8"/><circle cx="611.5" cy="1626.8" r="4.8"/><circle cx="611.5" cy="1721.6" r="4.8"/></g>
<circle cx="226" cy="1446" r="4.8" fill="#c0101e"/>
<circle cx="226" cy="1482.7" r="5" fill="#737f7d"/>
<text x="254.5" y="1455.1" font-size="30.8">on-target</text>
<text x="254.5" y="1491.9" font-size="30.8">off-target</text>
</g>
<g id="panel-d">
<text x="1070" y="43.2" font-size="60" class="b">d</text>
<text x="1634.5" y="69.9" font-size="35.7" text-anchor="middle" class="b">ND5.2-DdCBE, wild-type DddA</text>
<text x="1632.6" y="105.4" font-size="35.7" text-anchor="middle">Number of unique off-target SNVs: 41</text>
<path d="M1218.2 148.8V483.6M1216.2 481.6H2106.3" stroke="#000" stroke-width="4.0" fill="none"/>
<path d="M1211.4 481.6H1218.2M1211.4 415.4H1218.2M1211.4 349.2H1218.2M1211.4 283H1218.2M1211.4 216.8H1218.2M1211.4 150.6H1218.2M1325.4 481.6V488M1432.6 481.6V488M1539.8 481.6V488M1647 481.6V488M1754.2 481.6V488M1861.4 481.6V488M1968.6 481.6V488M2075.8 481.6V488" stroke="#000" stroke-width="3.7" fill="none"/>
<text x="1204.9" y="491.2" font-size="31.17" text-anchor="end">0</text>
<text x="1204.9" y="425" font-size="31.17" text-anchor="end">2</text>
<text x="1204.9" y="358.8" font-size="31.17" text-anchor="end">4</text>
<text x="1204.9" y="292.6" font-size="31.17" text-anchor="end">6</text>
<text x="1204.9" y="226.4" font-size="31.17" text-anchor="end">8</text>
<text x="1204.9" y="160.2" font-size="31.17" text-anchor="end">10</text>
<text x="1325.7" y="536.1" font-size="31.17" text-anchor="middle">2000</text>
<text x="1432.9" y="536.1" font-size="31.17" text-anchor="middle">4000</text>
<text x="1540.1" y="536.1" font-size="31.17" text-anchor="middle">6000</text>
<text x="1647.3" y="536.1" font-size="31.17" text-anchor="middle">8000</text>
<text x="1754.5" y="536.1" font-size="31.17" text-anchor="middle">10000</text>
<text x="1861.7" y="536.1" font-size="31.17" text-anchor="middle">12000</text>
<text x="1968.9" y="536.1" font-size="31.17" text-anchor="middle">14000</text>
<text x="2076.1" y="536.1" font-size="31.17" text-anchor="middle">16000</text>
<text x="1310.2" y="587.8" font-size="31.07" xml:space="preserve">Position in human mitochondrial chromosome  (bp)</text>
<text transform="translate(1152 507.8) rotate(-90)" font-size="31.07" xml:space="preserve">Average SNV frequency  (%)</text>
<g fill="#737f7d"><circle cx="1233.4" cy="472.6" r="4.9"/><circle cx="1248.2" cy="462.5" r="4.9"/><circle cx="1257.6" cy="474.2" r="4.9"/><circle cx="1283.5" cy="473.1" r="4.9"/><circle cx="1333.9" cy="474.2" r="4.9"/><circle cx="1343.6" cy="474.5" r="4.9"/><circle cx="1403.5" cy="473.4" r="4.9"/><circle cx="1409.9" cy="460.6" r="4.9"/><circle cx="1416.3" cy="474" r="4.9"/><circle cx="1477.8" cy="464.8" r="4.9"/><circle cx="1510.4" cy="473.4" r="4.9"/><circle cx="1526.5" cy="471.4" r="4.9"/><circle cx="1535.4" cy="474.2" r="4.9"/><circle cx="1562.7" cy="457.5" r="4.9"/><circle cx="1562.7" cy="465.6" r="4.9"/><circle cx="1604.9" cy="470.1" r="4.9"/><circle cx="1604.9" cy="472.3" r="4.9"/><circle cx="1643.3" cy="470.1" r="4.9"/><circle cx="1653.6" cy="466.7" r="4.9"/><circle cx="1654.7" cy="470.6" r="4.9"/><circle cx="1685.3" cy="470.9" r="4.9"/><circle cx="1721.2" cy="470.6" r="4.9"/><circle cx="1764.9" cy="471.4" r="4.9"/><circle cx="1765.5" cy="473.1" r="4.9"/><circle cx="1783.3" cy="472.3" r="4.9"/><circle cx="1795.8" cy="473.7" r="4.9"/><circle cx="1816.7" cy="473.1" r="4.9"/><circle cx="1886" cy="470.1" r="4.9"/><circle cx="1916.9" cy="470.9" r="4.9"/><circle cx="1921.9" cy="474.2" r="4.9"/><circle cx="1950.3" cy="466.4" r="4.9"/><circle cx="1950.9" cy="474.2" r="4.9"/><circle cx="1956.2" cy="455" r="4.9"/><circle cx="1972" cy="474.5" r="4.9"/><circle cx="1998.2" cy="469.5" r="4.9"/><circle cx="2006" cy="472.3" r="4.9"/><circle cx="2024.6" cy="465" r="4.9"/><circle cx="2027.1" cy="471.4" r="4.9"/></g>
<g fill="#2f62e8"><circle cx="1939.2" cy="177.3" r="4.8"/><circle cx="1939.2" cy="268.7" r="4.8"/></g>
<circle cx="1282.5" cy="159.4" r="4.8" fill="#2f62e8"/>
<circle cx="1282.5" cy="196.1" r="5" fill="#737f7d"/>
<text x="1311" y="168.5" font-size="31.17">on-target</text>
<text x="1311" y="205.3" font-size="31.17">off-target</text>
</g>
<g id="panel-e">
<text x="1067" y="671.5" font-size="60" class="b">e</text>
<text x="1650.3" y="711.3" font-size="35.7" text-anchor="middle" class="b">ND5.2-DdCBE, DddA6</text>
<text x="1650" y="746.6" font-size="35.7" text-anchor="middle">Number of unique off-target SNVs: 189</text>
<path d="M1204.8 793.4V1127.8M1202.8 1125.8H2094.3" stroke="#000" stroke-width="4.0" fill="none"/>
<path d="M1198 1125.8H1204.8M1198 1043.2H1204.8M1198 960.5H1204.8M1198 877.9H1204.8M1198 795.2H1204.8M1312.3 1125.8V1132.2M1419.7 1125.8V1132.2M1527.2 1125.8V1132.2M1634.6 1125.8V1132.2M1742.1 1125.8V1132.2M1849.6 1125.8V1132.2M1957 1125.8V1132.2M2064.5 1125.8V1132.2" stroke="#000" stroke-width="3.7" fill="none"/>
<text x="1191.5" y="1135.5" font-size="31.17" text-anchor="end">0</text>
<text x="1191.5" y="1052.8" font-size="31.17" text-anchor="end">10</text>
<text x="1191.5" y="970.2" font-size="31.17" text-anchor="end">20</text>
<text x="1191.5" y="887.5" font-size="31.17" text-anchor="end">30</text>
<text x="1191.5" y="804.9" font-size="31.17" text-anchor="end">40</text>
<text x="1312.6" y="1180.3" font-size="31.17" text-anchor="middle">2000</text>
<text x="1420" y="1180.3" font-size="31.17" text-anchor="middle">4000</text>
<text x="1527.5" y="1180.3" font-size="31.17" text-anchor="middle">6000</text>
<text x="1634.9" y="1180.3" font-size="31.17" text-anchor="middle">8000</text>
<text x="1742.4" y="1180.3" font-size="31.17" text-anchor="middle">10000</text>
<text x="1849.9" y="1180.3" font-size="31.17" text-anchor="middle">12000</text>
<text x="1957.3" y="1180.3" font-size="31.17" text-anchor="middle">14000</text>
<text x="2064.8" y="1180.3" font-size="31.17" text-anchor="middle">16000</text>
<text x="1297.4" y="1232" font-size="31.07" xml:space="preserve">Position in human mitochondrial chromosome  (bp)</text>
<text transform="translate(1138.1 1152) rotate(-90)" font-size="31.07" xml:space="preserve">Average SNV frequency  (%)</text>
<g fill="#737f7d"><circle cx="1208" cy="1123.5" r="4.7"/><circle cx="1233.6" cy="1122.9" r="4.7"/><circle cx="1238.3" cy="1123" r="4.7"/><circle cx="1243.1" cy="1123.4" r="4.7"/><circle cx="1271.8" cy="1123.5" r="4.7"/><circle cx="1291.9" cy="1123.7" r="4.7"/><circle cx="1296" cy="1123" r="4.7"/><circle cx="1300.1" cy="1123" r="4.7"/><circle cx="1304.2" cy="1123.2" r="4.7"/><circle cx="1308.3" cy="1123.8" r="4.7"/><circle cx="1312.4" cy="1123.1" r="4.7"/><circle cx="1328.1" cy="1123.8" r="4.7"/><circle cx="1331.8" cy="1123.7" r="4.7"/><circle cx="1335.5" cy="1123" r="4.7"/><circle cx="1339.2" cy="1123.5" r="4.7"/><circle cx="1350.2" cy="1123.5" r="4.7"/><circle cx="1362" cy="1123.4" r="4.7"/><circle cx="1364.4" cy="1123.4" r="4.7"/><circle cx="1385.7" cy="1124.1" r="4.7"/><circle cx="1389.4" cy="1123" r="4.7"/><circle cx="1393.1" cy="1122.9" r="4.7"/><circle cx="1396.9" cy="1124.1" r="4.7"/><circle cx="1400.6" cy="1123.4" r="4.7"/><circle cx="1416.4" cy="1123.1" r="4.7"/><circle cx="1421.5" cy="1123.3" r="4.7"/><circle cx="1426.6" cy="1123.3" r="4.7"/><circle cx="1441.6" cy="1123.5" r="4.7"/><circle cx="1456.6" cy="1124.1" r="4.7"/><circle cx="1461.3" cy="1123.1" r="4.7"/><circle cx="1466" cy="1123.1" r="4.7"/><circle cx="1470.7" cy="1123.6" r="4.7"/><circle cx="1484.9" cy="1123.6" r="4.7"/><circle cx="1490.3" cy="1124.1" r="4.7"/><circle cx="1239.9" cy="1120.7" r="4.7"/><circle cx="1328.9" cy="1121.4" r="4.7"/><circle cx="1403" cy="1117.5" r="4.7"/><circle cx="1465.2" cy="1115.1" r="4.7"/><circle cx="1498.2" cy="1123.5" r="4.7"/><circle cx="1508.8" cy="1123.5" r="4.7"/><circle cx="1521" cy="1123" r="4.7"/><circle cx="1524.9" cy="1123.1" r="4.7"/><circle cx="1528.9" cy="1123.2" r="4.7"/><circle cx="1550.9" cy="1124" r="4.7"/><circle cx="1555.3" cy="1123.5" r="4.7"/><circle cx="1559.6" cy="1123.8" r="4.7"/><circle cx="1573" cy="1123.5" r="4.7"/><circle cx="1588.8" cy="1123" r="4.7"/><circle cx="1591.1" cy="1123.5" r="4.7"/><circle cx="1607.3" cy="1123.5" r="4.7"/><circle cx="1621.8" cy="1123.9" r="4.7"/><circle cx="1625.4" cy="1123.5" r="4.7"/><circle cx="1628.9" cy="1124.1" r="4.7"/><circle cx="1641.5" cy="1124" r="4.7"/><circle cx="1645.5" cy="1123.3" r="4.7"/><circle cx="1669.1" cy="1122.9" r="4.7"/><circle cx="1673.8" cy="1123.8" r="4.7"/><circle cx="1678.6" cy="1123" r="4.7"/><circle cx="1697.5" cy="1122.9" r="4.7"/><circle cx="1701.5" cy="1123.8" r="4.7"/><circle cx="1705.5" cy="1123.9" r="4.7"/><circle cx="1709.5" cy="1123.9" r="4.7"/><circle cx="1713.6" cy="1124.1" r="4.7"/><circle cx="1717.6" cy="1123.1" r="4.7"/><circle cx="1721.6" cy="1123" r="4.7"/><circle cx="1725.7" cy="1123" r="4.7"/><circle cx="1729.7" cy="1124.1" r="4.7"/><circle cx="1733.7" cy="1123" r="4.7"/><circle cx="1753.4" cy="1123.1" r="4.7"/><circle cx="1758.1" cy="1122.9" r="4.7"/><circle cx="1773.1" cy="1122.9" r="4.7"/><circle cx="1777.4" cy="1122.9" r="4.7"/><circle cx="1781.7" cy="1123.3" r="4.7"/><circle cx="1786" cy="1123.1" r="4.7"/><circle cx="1790.3" cy="1123.3" r="4.7"/><circle cx="1550.1" cy="1115.9" r="4.7"/><circle cx="1552.5" cy="1120.7" r="4.7"/><circle cx="1640" cy="1115.9" r="4.7"/><circle cx="1643.9" cy="1120.7" r="4.7"/><circle cx="1707.7" cy="1119.9" r="4.7"/><circle cx="1751.8" cy="1119.1" r="4.7"/><circle cx="1799.7" cy="1123.6" r="4.7"/><circle cx="1804" cy="1123.7" r="4.7"/><circle cx="1808.2" cy="1123.9" r="4.7"/><circle cx="1812.4" cy="1123.2" r="4.7"/><circle cx="1816.7" cy="1123.7" r="4.7"/><circle cx="1820.9" cy="1124" r="4.7"/><circle cx="1825.1" cy="1124" r="4.7"/><circle cx="1829.4" cy="1123.1" r="4.7"/><circle cx="1833.6" cy="1123.7" r="4.7"/><circle cx="1854.5" cy="1123.5" r="4.7"/><circle cx="1870.6" cy="1123.6" r="4.7"/><circle cx="1874.7" cy="1123.5" r="4.7"/><circle cx="1878.8" cy="1124.1" r="4.7"/><circle cx="1882.8" cy="1123.5" r="4.7"/><circle cx="1886.9" cy="1123.4" r="4.7"/><circle cx="1891" cy="1124.1" r="4.7"/><circle cx="1895.1" cy="1123.7" r="4.7"/><circle cx="1899.1" cy="1123.2" r="4.7"/><circle cx="1903.2" cy="1123.3" r="4.7"/><circle cx="1907.3" cy="1123.5" r="4.7"/><circle cx="1911.3" cy="1122.9" r="4.7"/><circle cx="1915.4" cy="1123.6" r="4.7"/><circle cx="1919.5" cy="1123.8" r="4.7"/><circle cx="1923.5" cy="1123.4" r="4.7"/><circle cx="1927.6" cy="1123.9" r="4.7"/><circle cx="1931.7" cy="1124" r="4.7"/><circle cx="1935.8" cy="1123.6" r="4.7"/><circle cx="1939.8" cy="1123.7" r="4.7"/><circle cx="1943.9" cy="1123" r="4.7"/><circle cx="1957.3" cy="1122.9" r="4.7"/><circle cx="1961.2" cy="1124.1" r="4.7"/><circle cx="1965.2" cy="1123.2" r="4.7"/><circle cx="1969.1" cy="1123.1" r="4.7"/><circle cx="1987.2" cy="1124" r="4.7"/><circle cx="1991.3" cy="1123.8" r="4.7"/><circle cx="1995.3" cy="1123" r="4.7"/><circle cx="1999.3" cy="1123.3" r="4.7"/><circle cx="2003.3" cy="1123.2" r="4.7"/><circle cx="2007.4" cy="1123.2" r="4.7"/><circle cx="2011.4" cy="1122.9" r="4.7"/><circle cx="2015.4" cy="1123.5" r="4.7"/><circle cx="2019.4" cy="1123.3" r="4.7"/><circle cx="2023.5" cy="1123.4" r="4.7"/><circle cx="2027.5" cy="1123.1" r="4.7"/><circle cx="2031.5" cy="1123" r="4.7"/><circle cx="2035.5" cy="1122.9" r="4.7"/><circle cx="2039.6" cy="1124" r="4.7"/><circle cx="2043.6" cy="1123.8" r="4.7"/><circle cx="2047.6" cy="1123.6" r="4.7"/><circle cx="2051.7" cy="1123" r="4.7"/><circle cx="2055.7" cy="1123.1" r="4.7"/><circle cx="2059.7" cy="1123" r="4.7"/><circle cx="2083.3" cy="1123.5" r="4.7"/><circle cx="1925.8" cy="1116.7" r="4.7"/><circle cx="1943.9" cy="1111.2" r="4.7"/><circle cx="2012.4" cy="1119.9" r="4.7"/></g>
<g fill="#2f62e8"><circle cx="1926.9" cy="829.3" r="4.8"/><circle cx="1927.2" cy="833.2" r="4.8"/></g>
<circle cx="1269.4" cy="804.3" r="4.8" fill="#2f62e8"/>
<circle cx="1269.4" cy="840.8" r="5" fill="#737f7d"/>
<text x="1297.9" y="813.4" font-size="31.17">on-target</text>
<text x="1297.9" y="850" font-size="31.17">off-target</text>
</g>
<g id="panel-f">
<text x="1078" y="1329.6" font-size="60" class="b">f</text>
<text x="1639.6" y="1367.6" font-size="35.7" text-anchor="middle" class="b">ND5.2-DdCBE, DddA11</text>
<text x="1639.7" y="1402.9" font-size="35.7" text-anchor="middle">Number of unique off-target SNVs: 151</text>
<path d="M1204.8 1428.1V1763.5M1202.8 1761.5H2095.7" stroke="#000" stroke-width="4.0" fill="none"/>
<path d="M1198 1761.5H1204.8M1198 1695.2H1204.8M1198 1628.9H1204.8M1198 1562.5H1204.8M1198 1496.2H1204.8M1198 1429.9H1204.8M1312.4 1761.5V1767.9M1419.9 1761.5V1767.9M1527.5 1761.5V1767.9M1635.1 1761.5V1767.9M1742.6 1761.5V1767.9M1850.2 1761.5V1767.9M1957.8 1761.5V1767.9M2065.4 1761.5V1767.9" stroke="#000" stroke-width="3.7" fill="none"/>
<text x="1191.5" y="1771.1" font-size="31.17" text-anchor="end">0</text>
<text x="1191.5" y="1704.8" font-size="31.17" text-anchor="end">5</text>
<text x="1191.5" y="1638.5" font-size="31.17" text-anchor="end">10</text>
<text x="1191.5" y="1572.2" font-size="31.17" text-anchor="end">15</text>
<text x="1191.5" y="1505.8" font-size="31.17" text-anchor="end">20</text>
<text x="1191.5" y="1439.5" font-size="31.17" text-anchor="end">25</text>
<text x="1312.7" y="1815.8" font-size="31.17" text-anchor="middle">2000</text>
<text x="1420.2" y="1815.8" font-size="31.17" text-anchor="middle">4000</text>
<text x="1527.8" y="1815.8" font-size="31.17" text-anchor="middle">6000</text>
<text x="1635.4" y="1815.8" font-size="31.17" text-anchor="middle">8000</text>
<text x="1742.9" y="1815.8" font-size="31.17" text-anchor="middle">10000</text>
<text x="1850.5" y="1815.8" font-size="31.17" text-anchor="middle">12000</text>
<text x="1958.1" y="1815.8" font-size="31.17" text-anchor="middle">14000</text>
<text x="2065.7" y="1815.8" font-size="31.17" text-anchor="middle">16000</text>
<text x="1297.4" y="1867.3" font-size="31.07" xml:space="preserve">Position in human mitochondrial chromosome  (bp)</text>
<text transform="translate(1138.1 1787.8) rotate(-90)" font-size="31.07" xml:space="preserve">Average SNV frequency  (%)</text>
<g fill="#737f7d"><circle cx="1208.4" cy="1754.9" r="4.7"/><circle cx="1212.3" cy="1757" r="4.7"/><circle cx="1234.4" cy="1757.8" r="4.7"/><circle cx="1240.7" cy="1751.4" r="4.7"/><circle cx="1237.5" cy="1754.6" r="4.7"/><circle cx="1270.6" cy="1757.8" r="4.7"/><circle cx="1306.9" cy="1753" r="4.7"/><circle cx="1310.8" cy="1757" r="4.7"/><circle cx="1320.3" cy="1752.2" r="4.7"/><circle cx="1325.8" cy="1756.2" r="4.7"/><circle cx="1330.5" cy="1757.4" r="4.7"/><circle cx="1350.2" cy="1753.8" r="4.7"/><circle cx="1350.7" cy="1757.8" r="4.7"/><circle cx="1365.6" cy="1757" r="4.7"/><circle cx="1390.1" cy="1757" r="4.7"/><circle cx="1465.2" cy="1753" r="4.7"/><circle cx="1291.9" cy="1757.3" r="4.7"/><circle cx="1295.1" cy="1757.1" r="4.7"/><circle cx="1308.4" cy="1757" r="4.7"/><circle cx="1312.7" cy="1758" r="4.7"/><circle cx="1317" cy="1757.5" r="4.7"/><circle cx="1321.2" cy="1757.7" r="4.7"/><circle cx="1325.5" cy="1757.5" r="4.7"/><circle cx="1329.7" cy="1757.3" r="4.7"/><circle cx="1403" cy="1757.7" r="4.7"/><circle cx="1407.1" cy="1757.5" r="4.7"/><circle cx="1411.3" cy="1757.8" r="4.7"/><circle cx="1415.4" cy="1757.6" r="4.7"/><circle cx="1419.6" cy="1757.9" r="4.7"/><circle cx="1423.8" cy="1757.4" r="4.7"/><circle cx="1427.9" cy="1757" r="4.7"/><circle cx="1432.1" cy="1757" r="4.7"/><circle cx="1436.2" cy="1757.7" r="4.7"/><circle cx="1440.4" cy="1757" r="4.7"/><circle cx="1444.5" cy="1757.6" r="4.7"/><circle cx="1448.7" cy="1757.6" r="4.7"/><circle cx="1459.7" cy="1756.9" r="4.7"/><circle cx="1463.9" cy="1757.8" r="4.7"/><circle cx="1468.1" cy="1756.8" r="4.7"/><circle cx="1472.3" cy="1757.9" r="4.7"/><circle cx="1484.9" cy="1757.9" r="4.7"/><circle cx="1490.3" cy="1757.1" r="4.7"/><circle cx="1509.5" cy="1757.4" r="4.7"/><circle cx="1552.5" cy="1754.6" r="4.7"/><circle cx="1641.2" cy="1749.9" r="4.7"/><circle cx="1644.7" cy="1754.6" r="4.7"/><circle cx="1673" cy="1754.6" r="4.7"/><circle cx="1677" cy="1757" r="4.7"/><circle cx="1699" cy="1757" r="4.7"/><circle cx="1753.4" cy="1752.2" r="4.7"/><circle cx="1755.8" cy="1757" r="4.7"/><circle cx="1771.8" cy="1757.8" r="4.7"/><circle cx="1498.2" cy="1757.4" r="4.7"/><circle cx="1521.8" cy="1757.6" r="4.7"/><circle cx="1526.1" cy="1756.8" r="4.7"/><circle cx="1530.5" cy="1757.2" r="4.7"/><circle cx="1553.3" cy="1757.1" r="4.7"/><circle cx="1557.1" cy="1757.7" r="4.7"/><circle cx="1560.9" cy="1757.7" r="4.7"/><circle cx="1564.6" cy="1757.9" r="4.7"/><circle cx="1568.4" cy="1756.9" r="4.7"/><circle cx="1572.2" cy="1757.3" r="4.7"/><circle cx="1588.8" cy="1756.8" r="4.7"/><circle cx="1590.3" cy="1757.1" r="4.7"/><circle cx="1610" cy="1757.4" r="4.7"/><circle cx="1614" cy="1756.8" r="4.7"/><circle cx="1617.9" cy="1757.1" r="4.7"/><circle cx="1621.8" cy="1757.6" r="4.7"/><circle cx="1625.8" cy="1757.5" r="4.7"/><circle cx="1629.7" cy="1757.1" r="4.7"/><circle cx="1633.7" cy="1757.5" r="4.7"/><circle cx="1637.6" cy="1757.8" r="4.7"/><circle cx="1641.5" cy="1756.8" r="4.7"/><circle cx="1645.5" cy="1757.8" r="4.7"/><circle cx="1713.2" cy="1757.7" r="4.7"/><circle cx="1717" cy="1757.2" r="4.7"/><circle cx="1720.8" cy="1757" r="4.7"/><circle cx="1724.6" cy="1758" r="4.7"/><circle cx="1728.4" cy="1757.2" r="4.7"/><circle cx="1732.1" cy="1756.9" r="4.7"/><circle cx="1786.5" cy="1756.9" r="4.7"/><circle cx="1790.3" cy="1757.9" r="4.7"/><circle cx="1854.6" cy="1757.8" r="4.7"/><circle cx="1928.1" cy="1749.9" r="4.7"/><circle cx="1921.1" cy="1752.2" r="4.7"/><circle cx="1944.7" cy="1749.1" r="4.7"/><circle cx="1971.5" cy="1753" r="4.7"/><circle cx="1989.9" cy="1739.6" r="4.7"/><circle cx="1989.9" cy="1744.4" r="4.7"/><circle cx="2043.9" cy="1753.8" r="4.7"/><circle cx="2084.1" cy="1757.4" r="4.7"/><circle cx="1795.8" cy="1757.4" r="4.7"/><circle cx="1820.2" cy="1756.9" r="4.7"/><circle cx="1823.9" cy="1757.7" r="4.7"/><circle cx="1827.6" cy="1757" r="4.7"/><circle cx="1831.2" cy="1757.4" r="4.7"/><circle cx="1867.5" cy="1757.7" r="4.7"/><circle cx="1871.8" cy="1757.8" r="4.7"/><circle cx="1876.1" cy="1757.4" r="4.7"/><circle cx="1895.1" cy="1757.4" r="4.7"/><circle cx="1899.1" cy="1756.8" r="4.7"/><circle cx="1903.2" cy="1757.4" r="4.7"/><circle cx="1907.3" cy="1757.3" r="4.7"/><circle cx="1911.3" cy="1757.9" r="4.7"/><circle cx="1915.4" cy="1757.5" r="4.7"/><circle cx="1919.5" cy="1757.8" r="4.7"/><circle cx="1923.5" cy="1757.4" r="4.7"/><circle cx="1927.6" cy="1757" r="4.7"/><circle cx="1931.7" cy="1757.9" r="4.7"/><circle cx="1935.8" cy="1757.8" r="4.7"/><circle cx="1939.8" cy="1757.3" r="4.7"/><circle cx="1943.9" cy="1756.9" r="4.7"/><circle cx="1958.1" cy="1757.5" r="4.7"/><circle cx="1962" cy="1757.4" r="4.7"/><circle cx="1966" cy="1757.8" r="4.7"/><circle cx="1969.9" cy="1757.6" r="4.7"/><circle cx="1973.8" cy="1757.4" r="4.7"/><circle cx="1977.8" cy="1757.5" r="4.7"/><circle cx="1981.7" cy="1757.3" r="4.7"/><circle cx="1985.7" cy="1756.9" r="4.7"/><circle cx="1989.6" cy="1756.9" r="4.7"/><circle cx="1993.5" cy="1758" r="4.7"/><circle cx="2008.5" cy="1757.9" r="4.7"/><circle cx="2012.8" cy="1757.2" r="4.7"/><circle cx="2017.2" cy="1757.9" r="4.7"/><circle cx="2035.3" cy="1757.5" r="4.7"/><circle cx="2039.6" cy="1756.9" r="4.7"/><circle cx="2043.9" cy="1757.9" r="4.7"/><circle cx="2048.3" cy="1757.5" r="4.7"/><circle cx="2052.6" cy="1758" r="4.7"/><circle cx="2056.9" cy="1757.7" r="4.7"/><circle cx="2061.3" cy="1756.9" r="4.7"/></g>
<g fill="#2f62e8"><circle cx="1927.8" cy="1458.2" r="4.8"/><circle cx="1927.8" cy="1473.5" r="4.8"/><circle cx="1927.8" cy="1549.5" r="4.8"/><circle cx="1928" cy="1691.2" r="4.8"/><circle cx="1928" cy="1700.5" r="4.8"/></g>
<circle cx="1269.6" cy="1439" r="4.8" fill="#2f62e8"/>
<circle cx="1269.6" cy="1476" r="5" fill="#737f7d"/>
<text x="1298.1" y="1448.1" font-size="31.17">on-target</text>
<text x="1298.1" y="1485.2" font-size="31.17">off-target</text>
</g>
<g id="panel-g">
<text x="18.8" y="1930.8" font-size="60" class="b">g</text>
<path d="M579.2 1941.9L579.2 2167M1102 1941.9L1102 2167M578 1994.7L1623.3 1994.7M73.6 2069.3L1623.3 2069.3" stroke="#111" stroke-width="2.4" fill="none"/>
<text x="840" y="1981.8" font-size="35.9" text-anchor="middle">ATP8-DdCBE</text>
<text x="1362" y="1981.8" font-size="35.9" text-anchor="middle">ND5.2-DdCBE</text>
<text x="665.7" y="2035.2" font-size="35.9" text-anchor="middle">canonical</text>
<text x="840" y="2035.2" font-size="35.9" text-anchor="middle">DddA6</text>
<text x="1013" y="2035.2" font-size="35.9" text-anchor="middle">DddA11</text>
<text x="1188" y="2035.2" font-size="35.9" text-anchor="middle">canonical</text>
<text x="1362.5" y="2035.2" font-size="35.9" text-anchor="middle">DddA6</text>
<text x="1535.6" y="2035.2" font-size="35.9" text-anchor="middle">DddA11</text>
<text x="666" y="2110.4" font-size="35.9" text-anchor="middle">192</text>
<text x="840" y="2110.4" font-size="35.9" text-anchor="middle">430</text>
<text x="1015" y="2110.4" font-size="35.9" text-anchor="middle">115</text>
<text x="1188.4" y="2110.4" font-size="35.9" text-anchor="middle">223</text>
<text x="1362.3" y="2110.4" font-size="35.9" text-anchor="middle">698</text>
<text x="1536" y="2110.4" font-size="35.9" text-anchor="middle">266</text>
<text x="326.8" y="2110.2" font-size="35.9" text-anchor="middle">Average on-target:off-target</text>
<text x="326" y="2153" font-size="35.9" text-anchor="middle">editing ratio</text>
</g>
</svg>
</body></html>
